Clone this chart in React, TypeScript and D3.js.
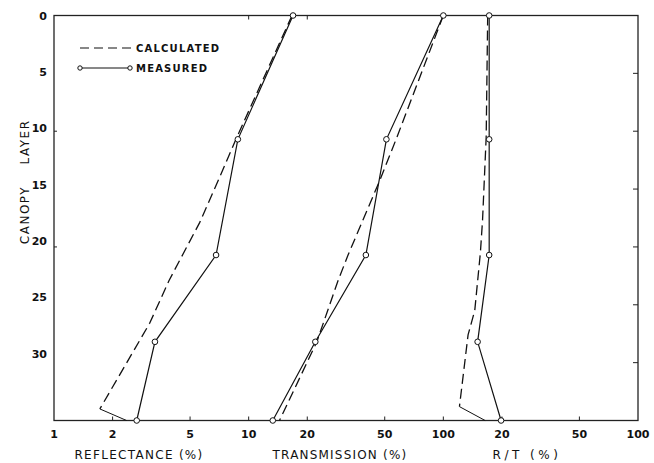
import * as d3 from 'd3';

// canopy layer of each measurement (0 = top of canopy)
const measuredLayers = [0, 10.7, 20.7, 28.2, 35];
const reflMeasured = [16.9, 8.8, 6.8, 3.3, 2.66];
const transMeasured = [100, 51, 40, 22, 13.3];
const ratioMeasured = [17.2, 17.2, 17.2, 15.0, 19.8];

// calculated curves
const reflCalcLayers = [0, 10.7, 14.2, 17.9, 22.9, 26.6, 34, 35];
const reflCalc = [16.7, 8.6, 7.0, 5.6, 3.9, 3.1, 1.72, 2.36];
const transCalcLayers = [0, 10.6, 14.2, 20.7, 22.9, 28.2, 35];
const transCalc = [100, 57.5, 47.3, 32.4, 28.8, 22.4, 14.4];
const ratioCalcLayers = [0, 10.5, 17.7, 20.5, 25.5, 27.6, 33.8, 35];
const ratioCalc = [16.9, 16.6, 15.9, 15.5, 14.5, 13.4, 12.1, 16.4];

const reflTicks = [1, 2, 5];
const transTicks = [10, 20, 50, 100];
const ratioTicks = [20, 50, 100];
const layerTicks = [0, 5, 10, 15, 20, 25, 30];

const W = 654;
const H = 463;
const left = 54;
const right = 638;
const top = 15.5;
const bottom = 420.5;
const third = (right - left) / 3;

const FONT = 'DejaVu Sans, sans-serif';
const INK = '#111';

export default function App() {
  const xRefl = d3.scaleLog().domain([1, 10]).range([left, left + third]);
  const xTrans = d3.scaleLog().domain([10, 100]).range([left + third, left + 2 * third]);
  const xRatio = d3.scaleLog().domain([10, 100]).range([left + 2 * third, right]);
  const y = d3.scaleLinear().domain([0, 35]).range([top, bottom]);

  const mkLine = (x: d3.ScaleLogarithmic<number, number>) =>
    d3
      .line<[number, number]>()
      .x((d) => x(d[0]))
      .y((d) => y(d[1]));

  const pairs = (vals: number[], layers: number[]) =>
    vals.map((v, i) => [v, layers[i]] as [number, number]);

  const series = [
    { x: xRefl, meas: reflMeasured, calc: reflCalc, calcLayers: reflCalcLayers, solidEnd: true },
    { x: xTrans, meas: transMeasured, calc: transCalc, calcLayers: transCalcLayers, solidEnd: false },
    { x: xRatio, meas: ratioMeasured, calc: ratioCalc, calcLayers: ratioCalcLayers, solidEnd: true },
  ];

  const bottomTicks = [
    ...reflTicks.map((t) => ({ t, x: xRefl(t) })),
    ...transTicks.map((t) => ({ t, x: xTrans(t) })),
    ...ratioTicks.map((t) => ({ t, x: xRatio(t) })),
  ];

  return (
    <svg
      width={W}
      height={H}
      style={{ position: 'absolute', left: 0, top: 0, background: '#fff' }}
      fontFamily={FONT}
    >
      <rect x={0} y={0} width={W} height={H} fill="#fff" />

      {/* frame */}
      <rect
        x={left}
        y={top}
        width={right - left}
        height={bottom - top}
        fill="none"
        stroke="#222"
        strokeWidth={1.3}
      />

      {/* bottom ticks and labels */}
      {bottomTicks.map((d, i) => (
        <g key={'bt' + i}>
          {i > 0 && i < bottomTicks.length - 1 && (
            <line x1={d.x} x2={d.x} y1={bottom} y2={bottom - 4} stroke="#222" strokeWidth={1} />
          )}
          <text x={d.x} y={438} textAnchor="middle" fontSize={11} fill={INK} fontWeight="bold">
            {d.t}
          </text>
        </g>
      ))}
      {/* top ticks */}
      {[xRefl(10), xTrans(20)].map((x, i) => (
        <line key={'tt' + i} x1={x} x2={x} y1={top} y2={top + 4} stroke="#222" strokeWidth={1} />
      ))}
      {/* right ticks */}
      {layerTicks.slice(1).map((t) => (
        <line key={'rt' + t} x1={right} x2={right - 5} y1={y(t)} y2={y(t)} stroke="#222" strokeWidth={1} />
      ))}
      {/* left ticks and labels */}
      {[10, 20].map((t) => (
        <line key={'lt' + t} x1={left} x2={left + 3} y1={y(t)} y2={y(t)} stroke="#222" strokeWidth={1} />
      ))}
      {layerTicks.map((t) => (
        <text
          key={'yl' + t}
          x={47}
          y={y(t) + 4 - t * 0.3}
          textAnchor="end"
          fontSize={11}
          fill={INK}
          fontWeight="bold"
        >
          {t}
        </text>
      ))}

      {/* axis titles */}
      <text x={139} y={459} textAnchor="middle" fontSize={12} letterSpacing={1.3} fill={INK}>
        REFLECTANCE (%)
      </text>
      <text x={340} y={459} textAnchor="middle" fontSize={12} letterSpacing={1.2} fill={INK}>
        TRANSMISSION (%)
      </text>
      <text x={527} y={459} textAnchor="middle" fontSize={12} letterSpacing={3.5} fill={INK}>
        R/T (%)
      </text>
      <text
        transform="translate(29,142) rotate(-90)"
        textAnchor="middle"
        fontSize={12}
        letterSpacing={1.5}
        fill={INK}
      >
        LAYER
      </text>
      <text
        transform="translate(29,215) rotate(-90)"
        textAnchor="middle"
        fontSize={12}
        letterSpacing={1.5}
        fill={INK}
      >
        CANOPY
      </text>

      {/* legend */}
      <line x1={80} x2={132} y1={48} y2={48} stroke={INK} strokeWidth={1.2} strokeDasharray="9,5" />
      <text x={136} y={52} fontSize={10} fontWeight="bold" letterSpacing={1.2} fill={INK}>
        CALCULATED
      </text>
      <line x1={80} x2={130} y1={68} y2={68} stroke={INK} strokeWidth={1} />
      <circle cx={80} cy={68} r={2.2} fill="#fff" stroke={INK} strokeWidth={1} />
      <circle cx={130} cy={68} r={2.2} fill="#fff" stroke={INK} strokeWidth={1} />
      <text x={136} y={72} fontSize={10} fontWeight="bold" letterSpacing={1.2} fill={INK}>
        MEASURED
      </text>

      {/* data */}
      {series.map((s, i) => {
        const line = mkLine(s.x);
        const calc = pairs(s.calc, s.calcLayers);
        const meas = pairs(s.meas, measuredLayers);
        const dashed = s.solidEnd ? calc.slice(0, -1) : calc;
        return (
          <g key={'s' + i}>
            <path d={line(dashed) ?? ''} fill="none" stroke={INK} strokeWidth={1.3} strokeDasharray="10,5" />
            {s.solidEnd && (
              <path d={line(calc.slice(-2)) ?? ''} fill="none" stroke={INK} strokeWidth={1} />
            )}
            <path d={line(meas) ?? ''} fill="none" stroke={INK} strokeWidth={1.2} />
            {meas.map((d, j) => (
              <circle
                key={j}
                cx={s.x(d[0])}
                cy={y(d[1])}
                r={2.8}
                fill="#fff"
                stroke={INK}
                strokeWidth={1}
              />
            ))}
          </g>
        );
      })}
    </svg>
  );
}
